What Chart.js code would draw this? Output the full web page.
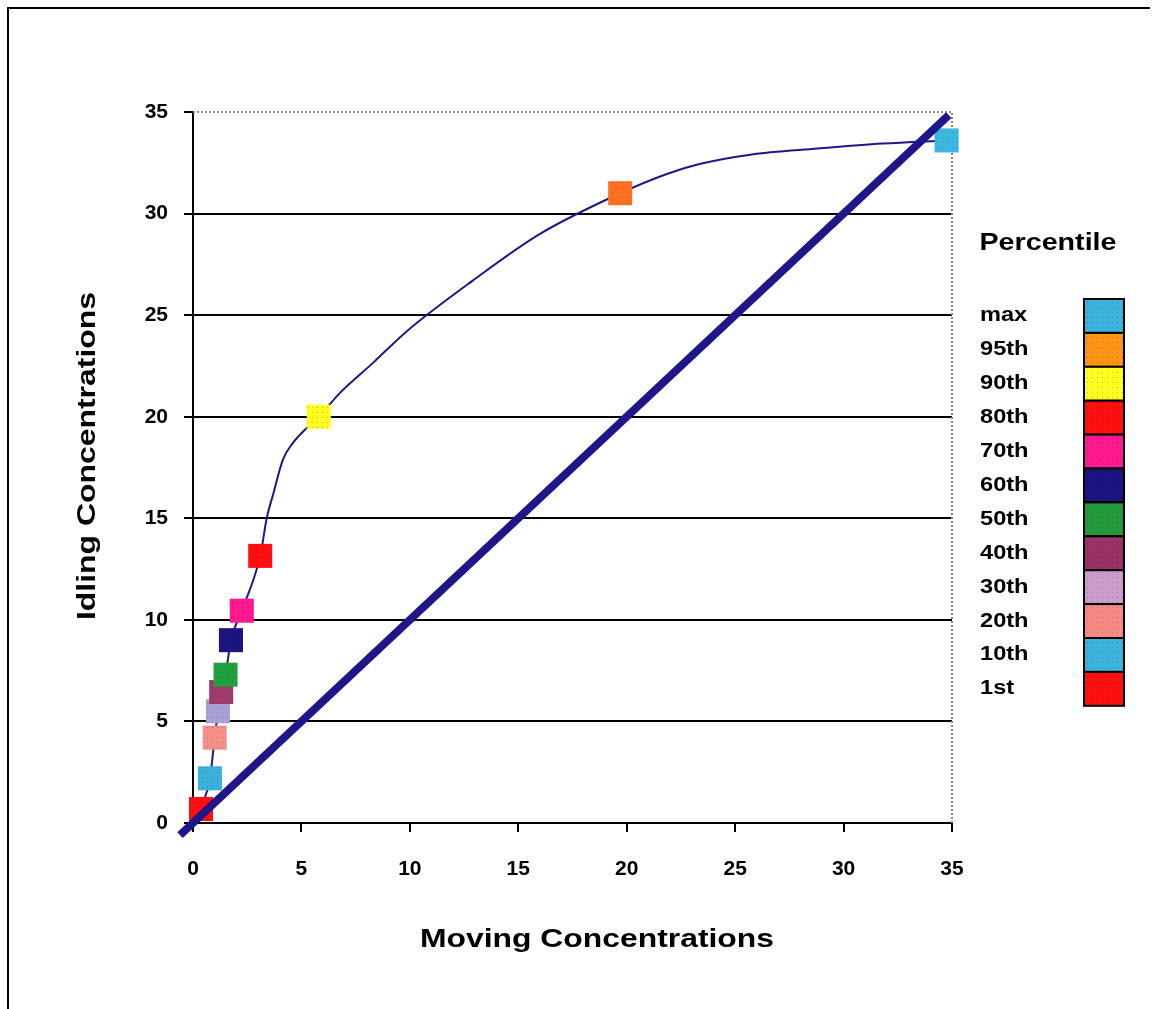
<!DOCTYPE html>
<html>
<head>
<meta charset="utf-8">
<title>Idling vs Moving Concentrations</title>
<script src="https://cdn.jsdelivr.net/npm/chart.js@4.4.1/dist/chart.umd.min.js"></script>
<style>
    html, body { margin: 0; padding: 0; background: #fff; }
    canvas { display: block; }
</style>
</head>
<body>
<canvas id="concChart" width="1157" height="1009"></canvas>
<script>
// ============================================
// DATA
// ============================================
const percentiles = ['1st', '10th', '20th', '30th', '40th', '50th', '60th', '70th', '80th', '90th', '95th', 'max'];
const movingConc  = [0.37, 0.78, 1.0, 1.15, 1.3, 1.5, 1.75, 2.25, 3.1, 5.8, 19.7, 34.75];
const idlingConc  = [0.69, 2.2, 4.2, 5.5, 6.45, 7.3, 9.0, 10.45, 13.15, 20.0, 31.0, 33.6];

// smooth line drawn through the percentiles
const curveX = [0.37, 0.78, 1.0, 1.15, 1.3, 1.5, 1.75, 2.25, 3.1, 3.4, 3.7, 4.15, 4.6, 5.25, 5.8, 6.8, 8.3, 9.85, 12.9, 16.0, 19.7, 21.85, 23.4, 25.7, 28.8, 31.8, 34.75];
const curveY = [0.69, 2.2, 4.2, 5.5, 6.45, 7.3, 9.0, 10.45, 13.15, 15.0, 16.2, 17.9, 18.7, 19.45, 20.0, 21.2, 22.65, 24.2, 26.7, 29.0, 31.0, 31.95, 32.45, 32.9, 33.2, 33.45, 33.6];

// 1:1 line
const diagX = [-0.6, 34.85];
const diagY = [-0.6, 34.85];

const axisTicks = [0, 5, 10, 15, 20, 25, 30, 35];

// colours, same order as percentiles
const markerColors = ['#ff1010', '#3ab0dc', '#f49088', '#a8a2d8', '#a03c6c', '#22a040', '#1c1480', '#ff1890', '#ff1010', '#ffff20', '#ff7020', '#3ab8e0'];
const legendColors = ['#ff1010', '#3ab4dc', '#f68a84', '#cc9ccc', '#993366', '#229a3a', '#1c1480', '#ff1890', '#ff1010', '#ffff20', '#ff9414', '#3ab4dc'];

const FONT = '"Liberation Sans", Arial, sans-serif';
const NAVY = '#1f168a';

// little dotted texture like the old spreadsheet fills
function dotted(color) {
    const c = document.createElement('canvas');
    c.width = 5; c.height = 5;
    const g = c.getContext('2d');
    g.fillStyle = color;
    g.fillRect(0, 0, 5, 5);
    g.fillStyle = 'rgba(0,0,0,0.22)';
    g.fillRect(2, 2, 1, 1);
    return g.createPattern(c, 'repeat');
}

function drawStretched(ctx, text, cx, cy, width, vertical) {
    ctx.save();
    ctx.translate(cx, cy);
    if (vertical) ctx.rotate(-Math.PI / 2);
    const w = ctx.measureText(text).width;
    ctx.scale(width / w, 1);
    ctx.textAlign = 'center';
    ctx.textBaseline = 'middle';
    ctx.fillText(text, 0, 0);
    ctx.restore();
}

// ============================================
// EXTRA DRAWING: frame, dotted plot border, titles, legend
// ============================================
const decorPlugin = {
    id: 'decor',
    beforeDatasetsDraw(chart) {
        const { ctx, chartArea: a } = chart;
        ctx.save();
        ctx.strokeStyle = '#8a8a8a';
        ctx.lineWidth = 2;
        ctx.setLineDash([2, 2]);
        ctx.beginPath();
        ctx.moveTo(a.left, a.top);
        ctx.lineTo(a.right, a.top);
        ctx.lineTo(a.right, a.bottom);
        ctx.stroke();
        ctx.restore();
    },
    afterDraw(chart) {
        const ctx = chart.ctx;
        ctx.save();

        // outer frame (top and left edges only)
        ctx.strokeStyle = '#000';
        ctx.lineWidth = 2;
        ctx.beginPath();
        ctx.moveTo(8, 1009);
        ctx.lineTo(8, 8);
        ctx.lineTo(1150, 8);
        ctx.stroke();

        // axis titles
        ctx.fillStyle = '#000';
        ctx.font = 'bold 26px ' + FONT;
        drawStretched(ctx, 'Moving Concentrations', 597, 940, 354, false);
        drawStretched(ctx, 'Idling Concentrations', 88, 456, 328, true);

        // legend
        ctx.font = 'bold 24px ' + FONT;
        drawStretched(ctx, 'Percentile', 1048, 243, 137, false);

        const top = 299, boxH = 33.9, left = 1084, boxW = 40;
        ctx.font = 'bold 20px ' + FONT;
        for (let i = 0; i < percentiles.length; i++) {
            const idx = percentiles.length - 1 - i;
            const y = top + i * boxH;
            ctx.fillStyle = dotted(legendColors[idx]);
            ctx.fillRect(left, y, boxW, boxH);
            ctx.strokeStyle = '#000';
            ctx.lineWidth = 2;
            ctx.strokeRect(left, y, boxW, boxH);

            ctx.save();
            ctx.fillStyle = '#000';
            ctx.translate(980, y + boxH / 2);
            ctx.scale(1.18, 1);
            ctx.textAlign = 'left';
            ctx.textBaseline = 'middle';
            ctx.fillText(percentiles[idx], 0, 0);
            ctx.restore();
        }
        ctx.restore();
    }
};

// ============================================
// CHART
// ============================================
function initChart() {
    const ctx = document.getElementById('concChart').getContext('2d');

    new Chart(ctx, {
        type: 'scatter',
        data: {
            datasets: [
                {
                    label: '1:1',
                    data: diagX.map((x, i) => ({ x: x, y: diagY[i] })),
                    showLine: true,
                    borderColor: NAVY,
                    borderWidth: 8,
                    borderCapStyle: 'butt',
                    pointRadius: 0,
                    clip: false,
                    order: 0
                },
                {
                    label: 'Percentiles',
                    data: movingConc.map((x, i) => ({ x: x, y: idlingConc[i] })),
                    showLine: false,
                    pointStyle: 'rect',
                    pointRadius: 17,
                    pointHoverRadius: 17,
                    pointBorderWidth: 0,
                    pointBackgroundColor: markerColors.map(dotted),
                    clip: false,
                    order: 1
                },
                {
                    label: 'Curve',
                    data: curveX.map((x, i) => ({ x: x, y: curveY[i] })),
                    showLine: true,
                    cubicInterpolationMode: 'monotone',
                    borderColor: NAVY,
                    borderWidth: 2,
                    pointRadius: 0,
                    order: 2
                }
            ]
        },
        options: {
            responsive: false,
            animation: false,
            layout: { padding: { left: 0, top: 112, right: 205, bottom: 0 } },
            plugins: {
                legend: { display: false },
                tooltip: { enabled: false }
            },
            scales: {
                x: {
                    type: 'linear',
                    min: 0,
                    max: 35,
                    afterBuildTicks: s => { s.ticks = axisTicks.map(v => ({ value: v })); },
                    afterFit: s => { s.height = 186; },
                    ticks: {
                        color: '#000',
                        font: { family: FONT, size: 21, weight: 'bold' },
                        padding: 25,
                        maxRotation: 0
                    },
                    grid: {
                        drawOnChartArea: false,
                        drawTicks: true,
                        tickLength: 9,
                        color: '#000',
                        lineWidth: 2
                    },
                    border: { color: '#000', width: 2 }
                },
                y: {
                    type: 'linear',
                    min: 0,
                    max: 35,
                    afterBuildTicks: s => { s.ticks = axisTicks.map(v => ({ value: v })); },
                    afterFit: s => { s.width = 193; },
                    ticks: {
                        color: '#000',
                        font: { family: FONT, size: 21, weight: 'bold' },
                        padding: 16
                    },
                    grid: {
                        color: c => (c.tick && c.tick.value === 35 ? 'rgba(0,0,0,0)' : '#000'),
                        tickColor: '#000',
                        tickLength: 9,
                        lineWidth: 2
                    },
                    border: { color: '#000', width: 2 }
                }
            }
        },
        plugins: [decorPlugin]
    });
}

document.addEventListener('DOMContentLoaded', initChart);
</script>
</body>
</html>
